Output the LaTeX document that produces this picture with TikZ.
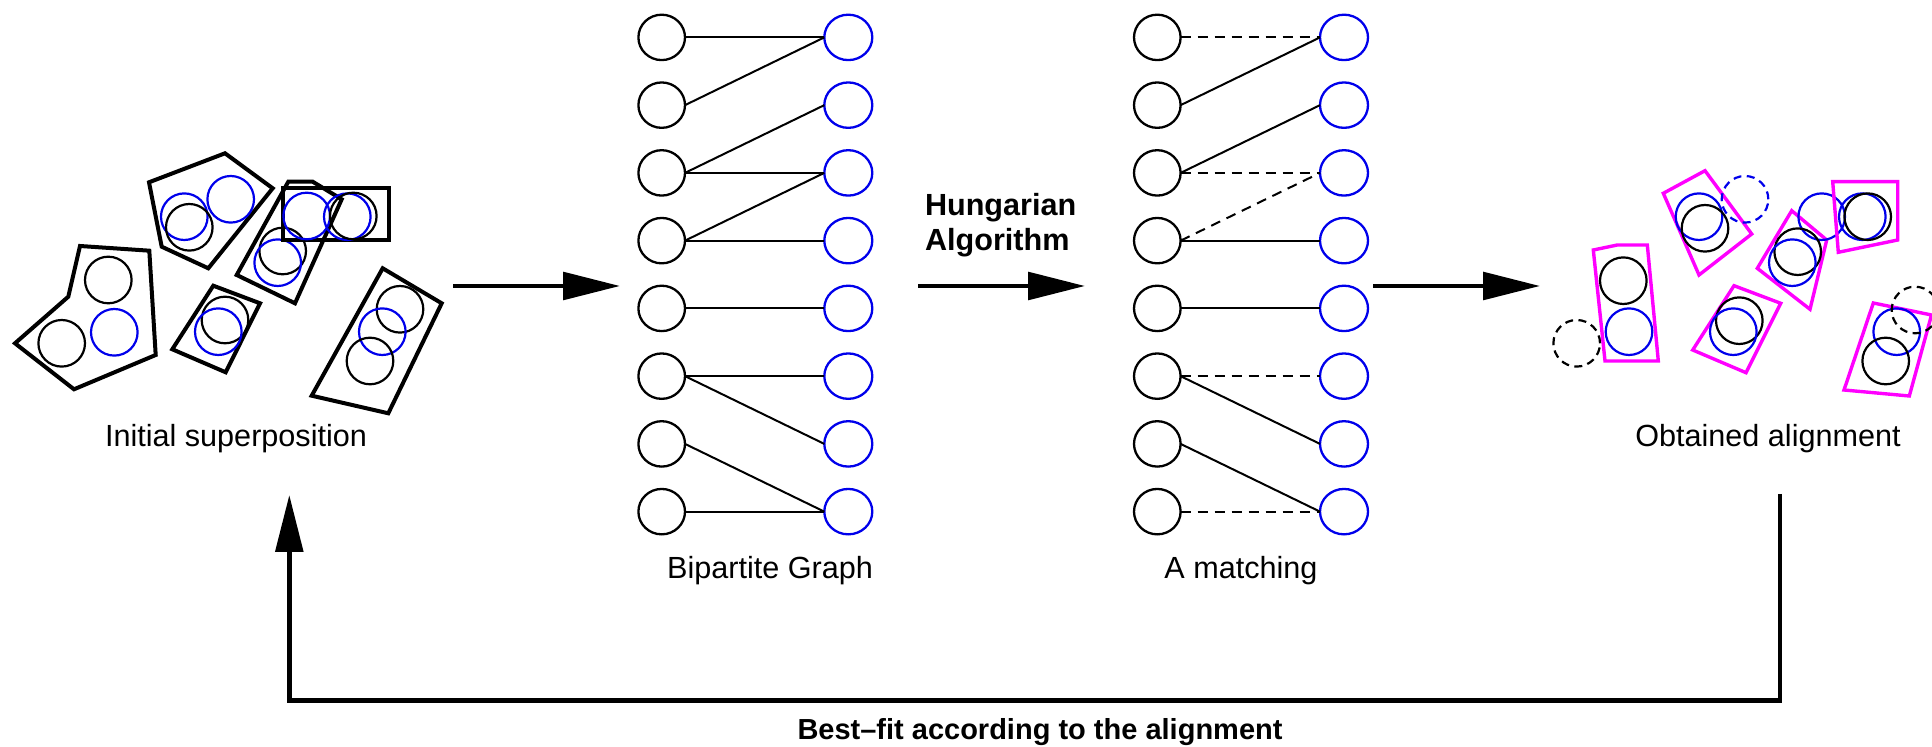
\documentclass[tikz,border=0pt]{standalone}
\usepackage{fontspec}
\setmainfont{Liberation Sans}
\usetikzlibrary{arrows.meta,shapes.geometric}
\definecolor{cblue}{RGB}{0,0,235}
\definecolor{cmag}{RGB}{255,0,255}
\tikzset{
  lnode/.style={ellipse, draw=black, line width=1.15pt, minimum width=23.3pt, minimum height=22.7pt, inner sep=0pt, outer sep=0pt},
  rnode/.style={ellipse, draw=cblue, line width=1.15pt, minimum width=24pt, minimum height=22.7pt, inner sep=0pt, outer sep=0pt},
  edge/.style={line width=1pt},
  dedge/.style={line width=1pt, dash pattern=on 5pt off 3.5pt},
  poly/.style={draw=black, line width=2pt, line join=miter},
  mpoly/.style={draw=cmag, line width=1.7pt, line join=miter},
  bc/.style={draw=black, line width=1.1pt},
  uc/.style={draw=cblue, line width=1.1pt},
  dbc/.style={draw=black, line width=1.1pt, dash pattern=on 4pt off 2.7pt},
  duc/.style={draw=cblue, line width=1.1pt, dash pattern=on 4pt off 2.7pt},
  bigarrow/.style={line width=2.3pt, -{Triangle[length=28.5pt,width=13.7pt]}},
  lab/.style={font=\fontsize{15.3}{17.5}\selectfont, inner sep=0pt, outer sep=0pt},
  blab/.style={font=\fontsize{15.3}{17.5}\selectfont\bfseries, inner sep=0pt, outer sep=0pt},
  blabs/.style={font=\fontsize{14.5}{17.5}\selectfont\bfseries, inner sep=0pt, outer sep=0pt}
}
\begin{document}
\begin{tikzpicture}[x=0.5pt,y=-0.5pt]
\useasboundingbox (0,0) rectangle (1932,747);
\clip (0,0) rectangle (1932,747);

% ---------- Initial superposition ----------
\draw[poly] (15,343.3)--(68.3,296.7)--(80,246)--(149.3,250.7)--(155.7,355)--(74,389.3)--cycle;
\draw[bc] (108.3,280) circle[radius=11.65pt];
\draw[bc] (61.7,343.3) circle[radius=11.65pt];
\draw[uc] (114.3,332.3) circle[radius=11.65pt];

\draw[poly] (149,182.3)--(225,153.3)--(272.7,188.3)--(208.3,268.3)--(161.7,246.7)--cycle;
\draw[uc] (184.3,216.7) circle[radius=11.65pt];
\draw[bc] (189.3,227.3) circle[radius=11.65pt];
\draw[uc] (230.7,199.3) circle[radius=11.65pt];

\draw[poly] (288.3,181.7)--(312.7,181.7)--(341.7,199.3)--(295,303.3)--(236.7,275)--cycle;
\draw[bc] (282.7,251) circle[radius=11.65pt];
\draw[uc] (277.7,262.7) circle[radius=11.65pt];

\draw[poly] (282.7,187.7) rectangle (389,240);
\draw[uc] (306.7,216) circle[radius=11.65pt];
\draw[uc] (347.3,216.7) circle[radius=11.65pt];
\draw[bc] (353.3,216) circle[radius=11.65pt];

\draw[poly] (213.3,285.7)--(260,303.3)--(225.7,372.3)--(172.3,349.3)--cycle;
\draw[bc] (225,320) circle[radius=11.65pt];
\draw[uc] (218.3,331.7) circle[radius=11.65pt];

\draw[poly] (382.7,268.3)--(441.7,303.3)--(388.3,413.3)--(311.7,395.7)--cycle;
\draw[bc] (400,309.3) circle[radius=11.65pt];
\draw[uc] (382.3,331.7) circle[radius=11.65pt];
\draw[bc] (370,361) circle[radius=11.65pt];

\node[lab, anchor=base] (tinit) at (236,446.7) {Initial superposition};

% ---------- Bipartite graph ----------
\foreach \i in {1,...,8}{
  \pgfmathsetmacro\yy{37.4+67.75*(\i-1)}
  \node[lnode] (bl\i) at (661.7,\yy) {};
  \node[rnode] (br\i) at (848.3,\yy) {};
  \node[lnode] (ml\i) at (1157.3,\yy) {};
  \node[rnode] (mr\i) at (1344,\yy) {};
}
\draw[edge] (bl1.east) -- (br1.west);
\draw[edge] (bl2.east) -- (br1.west);
\draw[edge] (bl3.east) -- (br2.west);
\draw[edge] (bl3.east) -- (br3.west);
\draw[edge] (bl4.east) -- (br3.west);
\draw[edge] (bl4.east) -- (br4.west);
\draw[edge] (bl5.east) -- (br5.west);
\draw[edge] (bl6.east) -- (br6.west);
\draw[edge] (bl6.east) -- (br7.west);
\draw[edge] (bl7.east) -- (br8.west);
\draw[edge] (bl8.east) -- (br8.west);
\node[lab, anchor=base] (tbip) at (770,579) {Bipartite Graph};

% ---------- Matching ----------
\draw[dedge] (ml1.east) -- (mr1.west);
\draw[edge] (ml2.east) -- (mr1.west);
\draw[edge] (ml3.east) -- (mr2.west);
\draw[dedge] (ml3.east) -- (mr3.west);
\draw[dedge] (ml4.east) -- (mr3.west);
\draw[edge] (ml4.east) -- (mr4.west);
\draw[edge] (ml5.east) -- (mr5.west);
\draw[dedge] (ml6.east) -- (mr6.west);
\draw[edge] (ml6.east) -- (mr7.west);
\draw[edge] (ml7.east) -- (mr8.west);
\draw[dedge] (ml8.east) -- (mr8.west);
\node[lab, anchor=base] (tmat) at (1241,579) {A matching};

% ---------- Obtained alignment ----------
\draw[mpoly] (1593.3,250)--(1617.3,245)--(1647.3,245)--(1658.3,361)--(1605,361)--cycle;
\draw[bc] (1623.3,280.7) circle[radius=11.65pt];
\draw[uc] (1629,331.7) circle[radius=11.65pt];
\draw[dbc] (1576.7,343.3) circle[radius=11.65pt];

\draw[mpoly] (1663.3,193.3)--(1705,170.7)--(1751.7,234)--(1699,275)--cycle;
\draw[uc] (1699,216.7) circle[radius=11.65pt];
\draw[bc] (1705,228.3) circle[radius=11.65pt];
\draw[duc] (1745,199.3) circle[radius=11.65pt];

\draw[mpoly] (1791.7,210.7)--(1826.7,240)--(1810,309.3)--(1757.3,268.3)--cycle;
\draw[uc] (1821.7,216.7) circle[radius=11.65pt];
\draw[bc] (1797.7,251.7) circle[radius=11.65pt];
\draw[uc] (1792.3,262.7) circle[radius=11.65pt];

\draw[mpoly] (1832.7,181.7)--(1897.7,181.7)--(1897.7,240)--(1838.3,252.3)--cycle;
\draw[uc] (1862.3,216.7) circle[radius=11.65pt];
\draw[bc] (1867.7,216.7) circle[radius=11.65pt];

\draw[mpoly] (1734,285.7)--(1780.7,303.3)--(1746,372.7)--(1692.7,350)--cycle;
\draw[bc] (1739.3,320.7) circle[radius=11.65pt];
\draw[uc] (1733.3,331.7) circle[radius=11.65pt];

\draw[mpoly] (1873.3,303)--(1931.5,315)--(1909.3,396)--(1844,390)--cycle;
\draw[uc] (1896.7,331.7) circle[radius=11.65pt];
\draw[bc] (1885.7,361) circle[radius=11.65pt];
\draw[dbc] (1915,310) circle[radius=11.65pt];

\node[lab, anchor=base] (tobt) at (1768,446.7) {Obtained alignment};

% ---------- Arrows ----------
\coordinate (a1s) at (453,286);
\coordinate (a1e) at (620,286);
\coordinate (a2s) at (918,286);
\coordinate (a2e) at (1085,286);
\coordinate (a3s) at (1373,286);
\coordinate (a3e) at (1540,286);
\draw[bigarrow] (a1s) -- (a1e);
\draw[bigarrow] (a2s) -- (a2e);
\draw[bigarrow] (a3s) -- (a3e);
\node[blab, anchor=west, align=left] (thun) at (925,225) {Hungarian\\Algorithm};

\coordinate (fb1) at (1780,494);
\coordinate (fb2) at (1780,700.5);
\coordinate (fb3) at (289.3,700.5);
\coordinate (fb4) at (289.3,495);
\draw[bigarrow, line join=miter] (fb1) -- (fb2) -- (fb3) -- (fb4);
\node[blabs, anchor=base] (tbest) at (1040,739.3) {Best–fit according to the alignment};
\end{tikzpicture}
\end{document}
